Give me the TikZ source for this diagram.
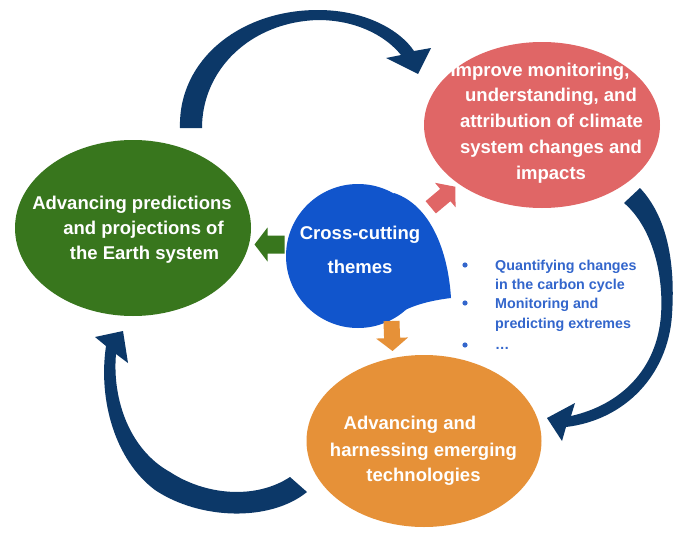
\documentclass[tikz,border=0pt]{standalone}
\usepackage{fontspec}
\setmainfont{Liberation Sans}
\usetikzlibrary{shapes.geometric}
\definecolor{cgreen}{HTML}{38761D}
\definecolor{cred}{HTML}{E06666}
\definecolor{corange}{HTML}{E69138}
\definecolor{cblue}{HTML}{1155CC}
\definecolor{cnavy}{HTML}{0C3868}
\definecolor{clist}{HTML}{3366CC}
\begin{document}
\begin{tikzpicture}[x=1pt,y=-1pt,
  blob/.style={ellipse, inner sep=0pt, draw=none},
  lbl/.style={text=white, font=\bfseries\fontsize{18.5}{22}\selectfont, inner sep=0pt, anchor=base},
  lst/.style={text=clist, font=\bfseries\fontsize{14.3}{17}\selectfont, inner sep=0pt, anchor=base west},
  curved/.style={fill=cnavy},
  blockarrow/.style={draw=none}]
\useasboundingbox (0,0) rectangle (673,538);
\fill[white] (0,0) rectangle (673,538);

% ellipses
\node[blob, fill=cgreen, minimum width=236pt, minimum height=176pt] (green) at (133,228) {};
\node[blob, fill=cred, minimum width=236pt, minimum height=166pt] (red) at (542,125) {};
\node[blob, fill=corange, minimum width=235pt, minimum height=172pt] (orange) at (424,441) {};

% central bubble
\node[circle, fill=cblue, minimum size=144pt, inner sep=0pt] (theme) at (358,256) {};
\fill[cblue] (394,193) .. controls (430,205) and (448,250) .. (451,298)
  .. controls (435,300) and (420,303) .. (405,310) -- (theme.center) -- cycle;

% block arrows
\begin{scope}[shift={(269.5,244.5)}, rotate=180]
  \fill[cgreen] (15,0) -- (2,-17) -- (2,-9) -- (-15,-9) -- (-15,9) -- (2,9) -- (2,17) -- cycle;
\end{scope}
\begin{scope}[shift={(443,197)}, rotate=40]
  \fill[cred] (16,0) -- (3,-16) -- (3,-8) -- (-16,-8) -- (-16,8) -- (3,8) -- (3,16) -- cycle;
\end{scope}
\begin{scope}[shift={(392,336)}, rotate=-88]
  \fill[corange] (15,0) -- (2,-16) -- (2,-8) -- (-15,-8) -- (-15,8) -- (2,8) -- (2,16) -- cycle;
\end{scope}

% curved arrows
\fill[curved] (180,128) .. controls (178,60) and (240,10) .. (318,10)
  .. controls (365,10) and (400,30) .. (414,51) -- (431,48) -- (418,74) -- (386,58) -- (401,55)
  .. controls (385,35) and (355,20) .. (318,20)
  .. controls (250,22) and (202,70) .. (202,128) -- cycle;
\fill[curved] (640,188) .. controls (670,220) and (675,270) .. (672,315)
  .. controls (668,375) and (625,420) .. (566,427) -- (562,441) -- (547,418) -- (575,403) -- (571,416)
  .. controls (620,405) and (657,370) .. (661,315)
  .. controls (664,270) and (650,225) .. (624,203) -- cycle;
\fill[curved] (307,492) .. controls (270,522) and (200,520) .. (155,490)
  .. controls (115,460) and (98,400) .. (106,346) -- (95,337) -- (123,331) -- (128,363) -- (116,354)
  .. controls (112,400) and (130,450) .. (170,472)
  .. controls (205,495) and (255,500) .. (290,477) -- cycle;

% texts
\node[lbl] (g1) at (132,209.5) {Advancing predictions};
\node[lbl] (g2) at (143.5,234.5) {and projections of};
\node[lbl] (g3) at (144.5,259.5) {the Earth system};

\node[lbl] (r1) at (540,76.5) {Improve monitoring,};
\node[lbl] (r2) at (551,101.5) {understanding, and};
\node[lbl] (r3) at (551.5,127.5) {attribution of climate};
\node[lbl] (r4) at (551,153.5) {system changes and};
\node[lbl] (r5) at (551,179.5) {impacts};

\node[lbl] (o1) at (410,429.5) {Advancing and};
\node[lbl] (o2) at (423.5,456.5) {harnessing emerging};
\node[lbl] (o3) at (423.5,481.5) {technologies};

\node[lbl] (c1) at (360,239.5) {Cross-cutting};
\node[lbl] (c2) at (360,273.5) {themes};

% list
\fill[clist] (465,265) circle (2.6);
\fill[clist] (465,303) circle (2.6);
\fill[clist] (465,345) circle (2.6);
\node[lst] (l1) at (495,270) {Quantifying changes};
\node[lst] (l2) at (495,289) {in the carbon cycle};
\node[lst] (l3) at (495,308.5) {Monitoring and};
\node[lst] (l4) at (495,328.5) {predicting extremes};
\node[lst] (l5) at (495,349) {…};
\end{tikzpicture}
\end{document}
